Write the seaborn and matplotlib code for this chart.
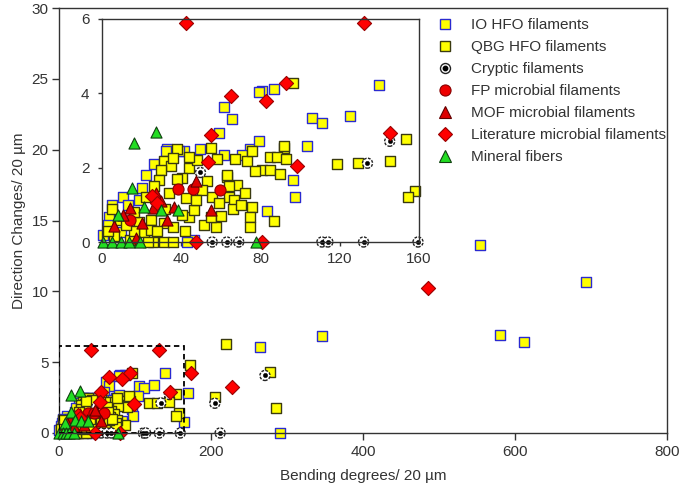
import matplotlib
matplotlib.use("Agg")
import matplotlib.pyplot as plt
from matplotlib.lines import Line2D
from matplotlib.patches import Rectangle
from matplotlib.legend_handler import HandlerTuple
import seaborn as sns
import pandas as pd

sns.set_style("ticks")
plt.rcParams['font.family'] = ['Liberation Sans', 'DejaVu Sans']

# ---------------- data ----------------
io_x = [86.6, 80.8, 105.9, 111.2, 125.1, 139.7, 61.5, 65.7, 79.4, 59.0, 103.4, 96.3, 97.5, 83.3,
        41.4, 61.5, 74.9, 79.0, 33.0, 10.4, 0.3, 32.2, 49.7, 70.7, 46.4, 43.0, 3.7, 2.9, 12.9,
        18.7, 9.5, 20.4, 38.8, 5.0, 26.0, 22.0,
        554, 694, 580, 612, 345.6, 264, 291, 170, 165]
io_y = [4.11, 4.06, 3.34, 3.21, 3.39, 4.22, 3.63, 3.32, 4.04, 2.92, 2.58, 1.66, 1.21, 0.84,
        2.44, 2.35, 2.49, 2.71, 2.49, 1.22, 0.19, 2.44, 2.49, 2.35, 0.05, 0.0, 0.68, 0.46, 1.0,
        1.14, 0.28, 1.45, 2.44, 1.0, 2.1, 1.8,
        13.25, 10.66, 6.9, 6.4, 6.86, 6.1, 0.0, 2.8, 0.75]

qbg_x = [96.6, 153.6, 92.0, 84.9, 88.3, 93.0, 80.8, 84.9, 89.6, 86.9, 118.7, 129.3, 145.2, 157.8,
         154.4, 54.8, 58.1, 67.3, 73.2, 77.4, 43.9, 40.6, 53.1, 63.2, 68.2, 72.4, 64.0, 55.6, 50.6,
         42.2, 75.7, 74.9, 74.9, 51.4, 57.3, 43.9, 46.4, 47.2, 59.0, 38.0, 31.3, 34.7, 29.6, 28.8,
         18.7, 24.6, 31.3, 25.5, 31.3, 36.0, 21.3, 33.8, 38.0, 75.7, 92.0, 63.2, 66.5, 64.0, 24.6,
         40.6, 32.0, 23.0, 14.0, 6.0, 9.0, 16.0, 28.0, 36.0, 42.0, 54.8, 60.0, 66.0, 70.0, 48.0,
         44.0, 36.0, 26.0, 22.0, 16.0, 12.0, 5.0, 3.0,
         172, 220, 277.6, 205, 285.5]
qbg_y = [4.27, 2.78, 2.53, 2.28, 2.28, 2.24, 1.95, 1.95, 1.84, 0.57, 2.10, 2.13, 2.17, 1.38,
         1.21, 2.53, 2.22, 2.22, 2.17, 1.90, 1.99, 1.72, 1.63, 1.76, 1.54, 1.32, 1.22, 1.22, 1.41,
         1.18, 0.95, 0.68, 0.41, 0.46, 0.41, 0.68, 0.86, 1.14, 1.05, 2.49, 2.17, 2.04, 1.95, 1.68,
         0.55, 0.59, 0.51, 0.0, 0.0, 0.0, 0.28, 1.32, 1.70, 2.44, 2.58, 1.81, 1.14, 1.50, 0.32,
         0.73, 0.88, 0.0, 0.05, 0.15, 0.60, 0.30, 0.30, 0.40, 0.30, 0.68, 0.70, 0.90, 1.00, 2.20,
         2.30, 2.25, 1.50, 1.20, 0.80, 0.45, 0.90, 0.30,
         4.8, 6.3, 4.34, 2.57, 1.75]

cryptic_x = [55.6, 63.0, 69.0, 111.0, 114.0, 132.0, 159.5, 134.0, 145.2, 49.7, 205, 271, 212]
cryptic_y = [0.0, 0.0, 0.0, 0.0, 0.0, 0.0, 0.0, 2.12, 2.71, 1.87, 2.1, 4.06, 0.0]

fp_x = [38.6, 46.0, 59.8, 14.0]
fp_y = [1.42, 1.42, 1.40, 0.58]

mof_x = [14.2, 27.1, 29.6, 25.5, 36.3, 47.4, 54.8, 6.2, 10.4, 17.1, 20.0, 33.0]
mof_y = [0.91, 1.32, 1.09, 0.91, 0.93, 1.65, 0.85, 0.43, 0.73, 0.10, 0.50, 0.60]

lit_x = [42.2, 132.2, 93.0, 65.3, 82.9, 55.0, 145.5, 53.5, 98.2, 25.0, 28.0, 47.2, 80.7,
         174, 227, 485]
lit_y = [5.89, 5.89, 4.27, 3.92, 3.79, 2.89, 2.92, 2.16, 2.04, 1.25, 1.05, 0.0, 0.0,
         4.27, 3.28, 10.24]

min_x = [16.2, 27.5, 15.2, 7.9, 21.0, 29.6, 38.6, 0.3, 5.0, 9.5, 13.7, 19.4, 77.9]
min_y = [2.66, 2.95, 1.45, 0.73, 0.93, 0.85, 0.85, 0.0, 0.0, 0.0, 0.0, 0.0, 0.0]

labels = ["IO HFO filaments", "QBG HFO filaments", "Cryptic filaments", "FP microbial filaments",
          "MOF microbial filaments", "Literature microbial filaments", "Mineral fibers"]

zoom_box = (165, 6.15)

# ---------------- styles ----------------
YEL = "#ffff00"
styles = [
    dict(marker="s", s=58, color=YEL, edgecolor="#2a2ad0", linewidth=1.0),
    dict(marker="s", s=58, color=YEL, edgecolor="#3a3a10", linewidth=1.0),
    dict(marker="o", s=52, color="white", edgecolor="#222222", linewidth=1.0),
    dict(marker="o", s=64, color="#ee0000", edgecolor="#880000", linewidth=0.8),
    dict(marker="^", s=64, color="#dd0000", edgecolor="#600000", linewidth=0.8),
    dict(marker="D", s=52, color="#ff0000", edgecolor="#990000", linewidth=0.8),
    dict(marker="^", s=64, color="#22dd22", edgecolor="#104010", linewidth=0.8),
]
series = [(io_x, io_y), (qbg_x, qbg_y), (cryptic_x, cryptic_y), (fp_x, fp_y),
          (mof_x, mof_y), (lit_x, lit_y), (min_x, min_y)]

TXT = "#333333"
FS = 11
fig = plt.figure(figsize=(6.8, 4.95), dpi=100)
ax = fig.add_axes([59/680, 1 - 433/495, 608/680, 425/495])
axi = fig.add_axes([102/680, 1 - 242/495, 317/680, 223/495])


def draw(a, xlim, ylim):
    for (xs, ys), st in zip(series, styles):
        df = pd.DataFrame({"x": xs, "y": ys})
        df = df[(df.x <= xlim[1] + 1) & (df.y <= ylim[1] + 0.2)]
        st = dict(st)
        if st["color"] == "white":
            sns.scatterplot(data=df, x="x", y="y", ax=a, marker="o", s=st["s"], color="white",
                            edgecolor=st["edgecolor"], linewidth=st["linewidth"],
                            linestyle=(0, (2, 1)), clip_on=False, legend=False)
            sns.scatterplot(data=df, x="x", y="y", ax=a, marker="o", s=10, color="black",
                            edgecolor="black", linewidth=0.3, clip_on=False, legend=False)
        else:
            sns.scatterplot(data=df, x="x", y="y", ax=a, clip_on=False, legend=False, **st)
    a.set_xlim(*xlim)
    a.set_ylim(*ylim)


draw(ax, (0, 800), (0, 30))
draw(axi, (0, 160), (0, 6))

ax.add_patch(Rectangle((0, 0), zoom_box[0], zoom_box[1], fill=False, ls=(0, (3, 2)),
                       lw=1.3, ec="black", zorder=5))

ax.set_xticks([0, 200, 400, 600, 800])
ax.set_yticks([0, 5, 10, 15, 20, 25, 30])
ax.set_xlabel("Bending degrees/ 20 µm", fontsize=FS, color=TXT, labelpad=7)
ax.set_ylabel("Direction Changes/ 20 µm", fontsize=FS, color=TXT, labelpad=4)
ax.tick_params(direction="out", length=5, width=1, colors="#333333", labelsize=FS,
               labelcolor=TXT, pad=2.5)
ax.tick_params(axis="x", pad=4)
for sp in ax.spines.values():
    sp.set_visible(True)
    sp.set_color("#333333")
    sp.set_linewidth(1.0)

axi.set_xticks([0, 40, 80, 120, 160])
axi.set_yticks([0, 2, 4, 6])
axi.set_xlabel("")
axi.set_ylabel("")
axi.tick_params(direction="out", length=3, width=1, colors="#333333", labelsize=FS,
                labelcolor=TXT, pad=6)
axi.tick_params(axis="x", pad=4)
for sp in axi.spines.values():
    sp.set_visible(True)
    sp.set_color("#333333")
    sp.set_linewidth(1.0)
axi.set_facecolor("white")

# legend
handles = []
for st in styles:
    if st["color"] == "white":
        h1 = Line2D([], [], ls="", marker="o", ms=7.2, mfc="white", mec="#222222", mew=1.0)
        h2 = Line2D([], [], ls="", marker="o", ms=3.2, mfc="black", mec="black")
        handles.append((h1, h2))
    else:
        ms = st["s"] ** 0.5
        handles.append(Line2D([], [], ls="", marker=st["marker"], ms=ms, mfc=st["color"],
                              mec=st["edgecolor"], mew=st["linewidth"]))
leg = ax.legend(handles, labels, loc="upper left", bbox_to_anchor=(0.6224, 0.976),
                frameon=False, fontsize=FS, handlelength=1.0, handletextpad=1.2,
                labelspacing=0.52, borderpad=0, borderaxespad=0,
                handler_map={tuple: HandlerTuple(ndivide=1, pad=0)})
for t in leg.get_texts():
    t.set_color(TXT)

fig.savefig("out.png", dpi=100)
